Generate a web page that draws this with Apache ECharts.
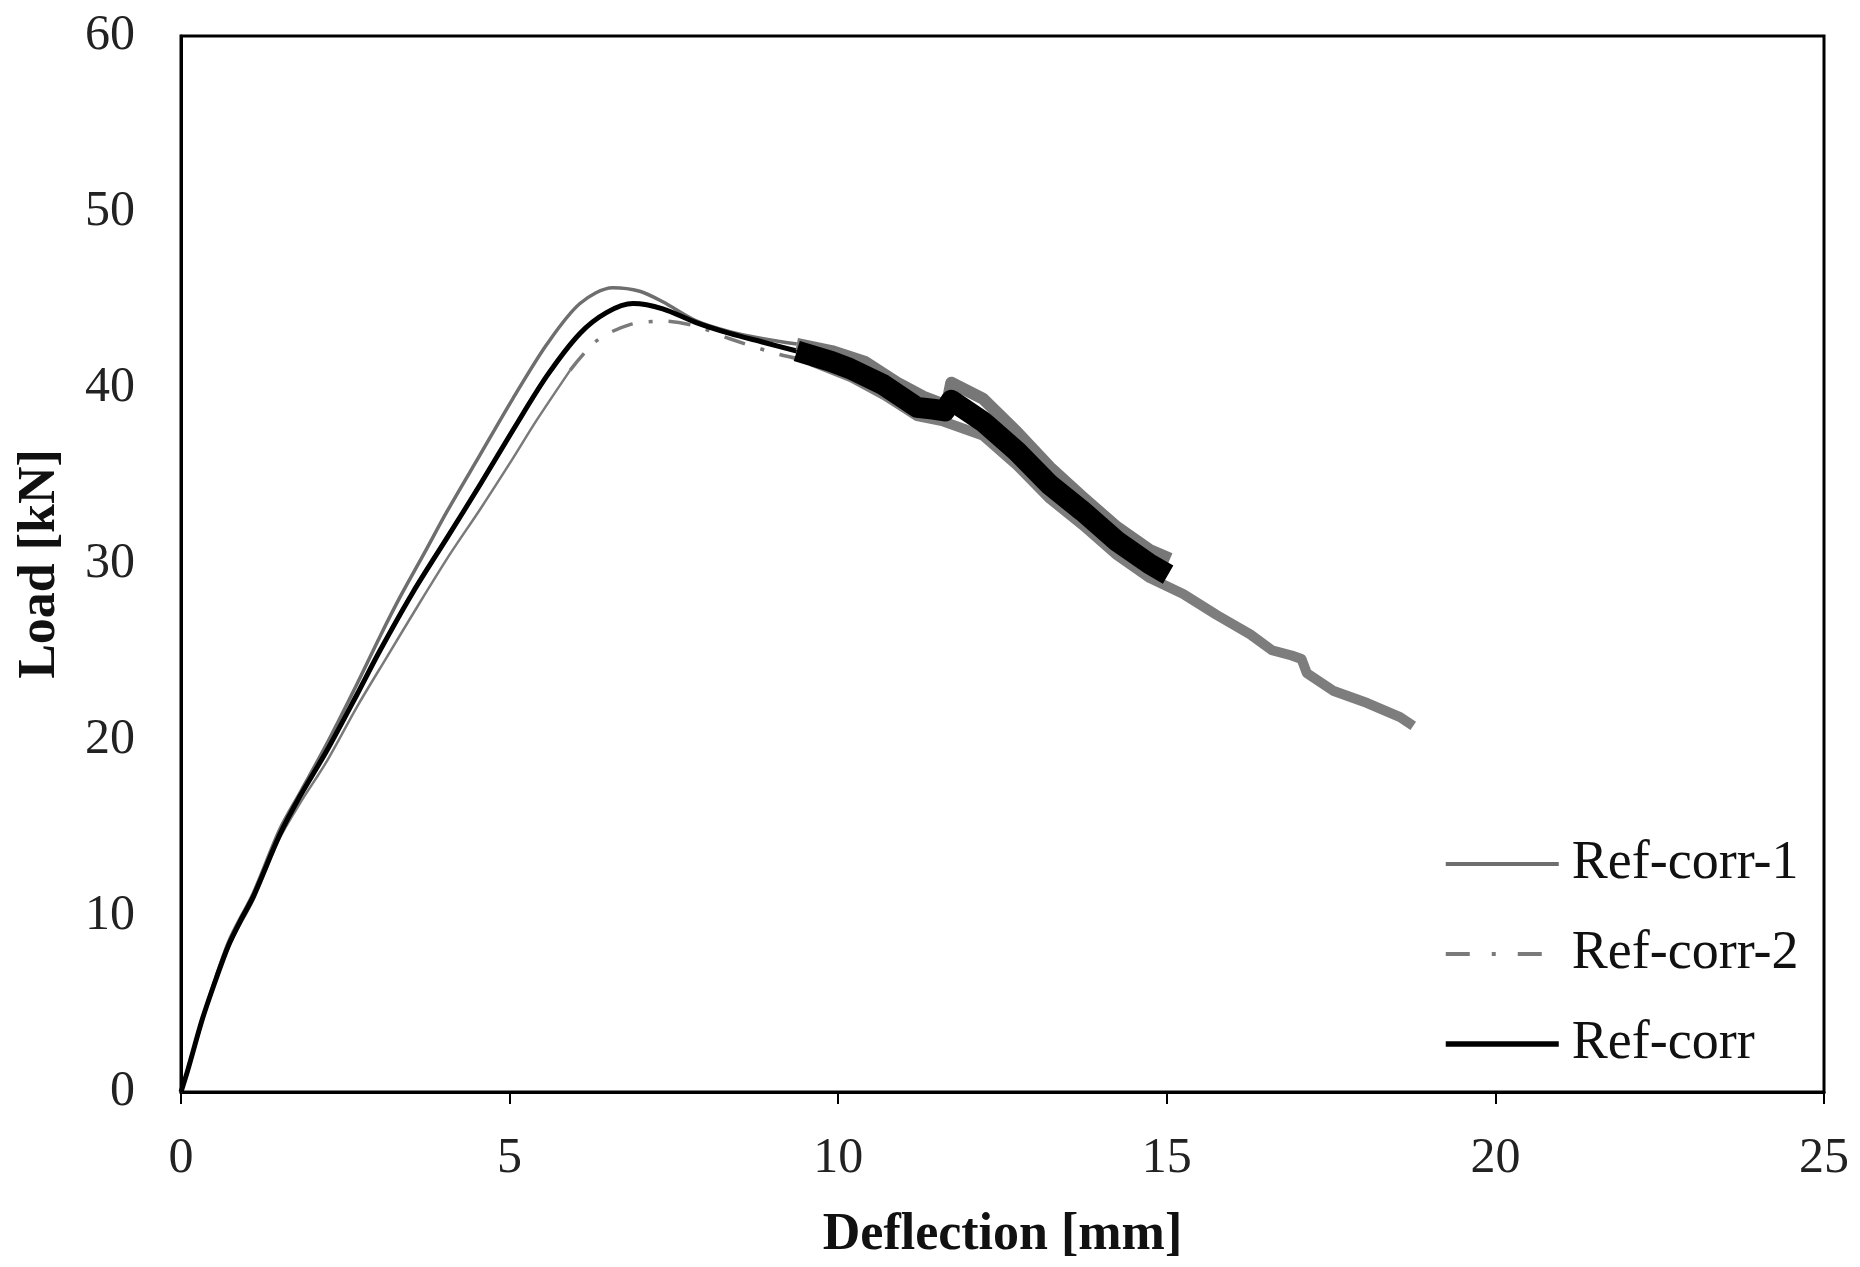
<!DOCTYPE html>
<html>
<head>
<meta charset="utf-8">
<script src="https://cdn.jsdelivr.net/npm/echarts@6/dist/echarts.min.js"></script>
<style>
  html, body { margin: 0; padding: 0; background: #fff; }
  #chart { width: 1860px; height: 1267px; }
</style>
</head>
<body>
<div id="chart"></div>
<script>
// ---- Data (Deflection [mm], Load [kN]) ----
const seriesNames = ['Ref-corr-1', 'Ref-corr-2', 'Ref-corr'];
const xTicks = [0, 5, 10, 15, 20, 25];
const yTicks = [0, 10, 20, 30, 40, 50, 60];

// Ref-corr-1 (grey solid)
const corr1Smooth = [
  [0, 0], [0.1, 1.2], [0.33, 4.2], [0.72, 8.5], [1.1, 11.3], [1.5, 14.9], [1.81, 17.0],
  [2.22, 19.8], [2.68, 23.2], [3.03, 25.9], [3.33, 28.1], [3.7, 30.6], [4.05, 33.0],
  [4.55, 36.2], [5.05, 39.4], [5.57, 42.5], [6.07, 44.8], [6.57, 45.7], [6.98, 45.5],
  [7.33, 44.9], [7.85, 43.8], [8.35, 43.2], [8.86, 42.8], [9.37, 42.5]
];
const corr1Noisy = [
  [9.37, 42.5], [9.9, 42.1], [10.4, 41.5], [10.9, 40.3], [11.3, 39.5], [11.65, 39.0],
  [11.72, 40.3], [12.2, 39.4], [12.72, 37.5], [13.22, 35.5], [13.72, 33.8], [14.24, 32.1],
  [14.74, 30.8], [15.05, 30.3]
];

// Ref-corr-2 (grey dash-dot)
const corr2Rise = [
  [0, 0], [0.1, 1.2], [0.33, 4.1], [0.72, 8.2], [1.1, 10.9], [1.5, 14.4], [1.81, 16.4],
  [2.22, 18.8], [2.68, 21.9], [3.13, 24.7], [3.6, 27.6], [4.1, 30.6], [4.55, 33.1],
  [5.05, 36.0], [5.4, 38.1], [5.92, 41.0]
];
const corr2Peak = [
  [5.92, 41.0], [6.33, 42.7], [6.83, 43.6], [7.33, 43.8], [7.85, 43.5], [8.35, 42.8],
  [9.11, 41.9], [9.6, 41.5]
];
const corr2Noisy = [
  [9.6, 41.5], [10.2, 40.6], [10.7, 39.6], [11.2, 38.4], [11.6, 38.1], [12.2, 37.3],
  [12.72, 35.6], [13.22, 33.7], [13.72, 32.2], [14.24, 30.5], [14.74, 29.2], [15.25, 28.3],
  [15.76, 27.1], [16.27, 26.0], [16.6, 25.1], [16.9, 24.8], [17.05, 24.6], [17.13, 23.8],
  [17.53, 22.8], [18.05, 22.1], [18.55, 21.3], [18.75, 20.8]
];

// Ref-corr (black)
const corrSmooth = [
  [0, 0], [0.1, 1.2], [0.33, 4.2], [0.55, 6.6], [0.72, 8.3], [0.9, 9.7], [1.1, 11.1],
  [1.5, 14.6], [1.81, 16.8], [2.22, 19.4], [2.68, 22.6], [3.03, 25.1], [3.53, 28.4],
  [4.05, 31.5], [4.55, 34.5], [5.05, 37.6], [5.57, 40.7], [6.07, 43.1], [6.48, 44.3],
  [6.88, 44.8], [7.33, 44.5], [7.85, 43.7], [8.35, 43.1], [8.86, 42.6], [9.37, 42.1]
];
const corrNoisy = [
  [9.37, 42.1], [9.9, 41.5], [10.18, 41.1], [10.68, 40.2], [11.2, 38.9], [11.44, 38.8],
  [11.62, 38.7], [11.72, 39.3], [12.2, 38.1], [12.72, 36.4], [13.22, 34.5], [13.72, 33.0],
  [14.24, 31.3], [14.74, 30.0], [15.02, 29.4]
];

const FONT = '"Liberation Serif", "Times New Roman", serif';

function line(name, data, color, width, type, smooth) {
  return {
    name: name, type: 'line', data: data, symbol: 'none', showSymbol: false,
    smooth: smooth || 0, animation: false, silent: true,
    lineStyle: { color: color, width: width, type: type || 'solid', cap: 'butt', join: 'round' },
    itemStyle: { color: color }
  };
}

const chart = echarts.init(document.getElementById('chart'), null, { renderer: 'canvas' });
chart.setOption({
  backgroundColor: '#ffffff',
  animation: false,
  grid: {
    left: 181, top: 36, right: 36, bottom: 170,
    show: true, borderColor: '#000', borderWidth: 3, backgroundColor: 'transparent'
  },
  legend: {
    data: [
      { name: seriesNames[0], lineStyle: { color: '#6e6e6e', width: 4, type: 'solid' } },
      { name: seriesNames[1], lineStyle: { color: '#7a7a7a', width: 4, type: [24, 22, 4, 22] } },
      { name: seriesNames[2], lineStyle: { color: '#000000', width: 5.5, type: 'solid' } }
    ],
    orient: 'vertical',
    left: 1438, top: 832,
    itemWidth: 113, itemHeight: 30, itemGap: 36,
    itemStyle: { opacity: 0 },
    textStyle: { fontFamily: FONT, fontSize: 54, color: '#111', lineHeight: 52, padding: [0, 0, 0, 8] },
    selectedMode: false
  },
  xAxis: {
    type: 'value', min: 0, max: 25, interval: 5,
    name: 'Deflection [mm]', nameLocation: 'middle', nameGap: 118,
    nameTextStyle: { fontFamily: FONT, fontSize: 52, fontWeight: 'bold', color: '#111' },
    axisLine: { show: true, lineStyle: { color: '#000', width: 3 } },
    axisTick: { show: true, inside: false, length: 12, lineStyle: { color: '#000', width: 2 } },
    axisLabel: { fontFamily: FONT, fontSize: 50, color: '#222', margin: 42,
      formatter: function (v) { return xTicks.indexOf(v) >= 0 ? String(v) : ''; } },
    splitLine: { show: false }
  },
  yAxis: {
    type: 'value', min: 0, max: 60, interval: 10,
    name: 'Load [kN]', nameLocation: 'middle', nameGap: 114, nameRotate: 90,
    nameTextStyle: { fontFamily: FONT, fontSize: 52, fontWeight: 'bold', color: '#111' },
    axisLine: { show: true, lineStyle: { color: '#000', width: 3 } },
    axisTick: { show: false },
    axisLabel: { fontFamily: FONT, fontSize: 50, color: '#222', margin: 46,
      formatter: function (v) { return yTicks.indexOf(v) >= 0 ? String(v) : ''; } },
    splitLine: { show: false }
  },
  series: [
    line('Ref-corr-1', corr1Smooth, '#6e6e6e', 3.5, 'solid', 0.3),
    line('Ref-corr-2', corr2Peak, '#7a7a7a', 3.5, [22, 16, 4, 16], 0.3),
    line('Ref-corr-2', corr2Rise, '#7a7a7a', 2.5, 'solid', 0.3),
    line('Ref-corr', corrSmooth, '#000000', 5, 'solid', 0.3),
    line('Ref-corr-1', corr1Noisy, '#777777', 12, 'solid', 0),
    line('Ref-corr-2', corr2Noisy, '#7d7d7d', 10, 'solid', 0),
    line('Ref-corr', corrNoisy, '#000000', 21, 'solid', 0)
  ]
});
</script>
</body>
</html>
